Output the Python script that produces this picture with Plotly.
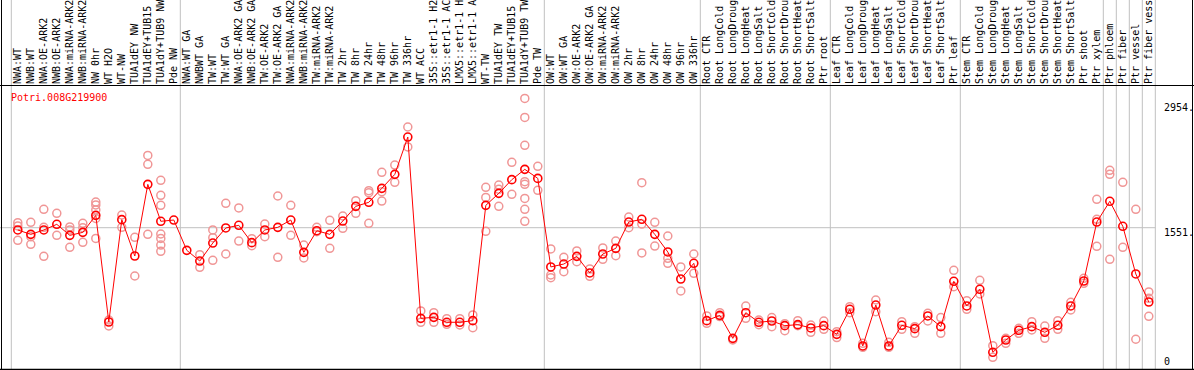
import plotly.graph_objects as go

categories = [
    "NWA:WT", "NWB:WT", "NWA:OE-ARK2", "NWB:OE-ARK2", "NWA:miRNA-ARK2", "NWB:miRNA-ARK2",
    "NW 0hr", "WT H2O", "WT-NW", "TUA1dEY NW", "TUA1dEY+TUB15", "TUA1dY+TUB9 NW", "Pde NW",
    "NWA:WT GA", "NWBWT GA", "TW:WT", "TW:WT GA", "NWA:OE-ARK2 GA", "NWB:OE-ARK2 GA",
    "TW:OE-ARK2", "TW:OE-ARK2 GA", "NWA:miRNA-ARK2", "NWB:miRNA-ARK2", "TW:miRNA-ARK2",
    "TW:miRNA-ARK2", "TW 2hr", "TW 8hr", "TW 24hr", "TW 48hr", "TW 96hr", "TW 336hr",
    "WT ACC", "35S::etr1-1 H2", "35S::etr1-1 AC", "LMX5::etr1-1 H", "LMX5::etr1-1 A",
    "WT-TW", "TUA1dEY TW", "TUA1dEY+TUB15", "TUA1dY+TUB9 TW", "Pde TW",
    "OW:WT", "OW:WT GA", "OW:OE-ARK2", "OW:OE-ARK2 GA", "OW:miRNA-ARK2", "OW:miRNA-ARK2",
    "OW 2hr", "OW 8hr", "OW 24hr", "OW 48hr", "OW 96hr", "OW 336hr",
    "Root CTR", "Root LongCold", "Root LongDroug", "Root LongHeat", "Root LongSalt",
    "Root ShortCold", "Root ShortDrou", "Root ShortHeat", "Root ShortSalt", "Ptr root",
    "Leaf CTR", "Leaf LongCold", "Leaf LongDroug", "Leaf LongHeat", "Leaf LongSalt",
    "Leaf ShortCold", "Leaf ShortDrou", "Leaf ShortHeat", "Leaf ShortSalt", "Ptr leaf",
    "Stem CTR", "Stem LongCold", "Stem LongDroug", "Stem LongHeat", "Stem LongSalt",
    "Stem ShortCold", "Stem ShortDrou", "Stem ShortHeat", "Stem ShortSalt", "Ptr shoot",
    "Ptr xylem", "Ptr phloem", "Ptr fiber", "Ptr vessel", "Ptr fiber vess",
]

means = [
    1526, 1478, 1526, 1588, 1467, 1500, 1686, 518, 1639, 1241, 2026, 1621, 1635, 1303, 1186,
    1383, 1548, 1577, 1387, 1526, 1555, 1635, 1281, 1518, 1478, 1624, 1785, 1829, 1982, 2135,
    2544, 558, 569, 515, 515, 533, 1796, 1927, 2077, 2190, 2091, 1121, 1153, 1237, 1055, 1263,
    1325, 1613, 1643, 1478, 1285, 989, 1161, 533, 591, 339, 620, 515, 529, 478, 489,
    453, 478, 383, 657, 256, 704, 256, 482, 445, 584, 467, 964, 694, 876, 186, 321, 427, 467,
    405, 482, 694, 967, 1613, 1840, 1566, 1044, 737,
]

replicates = [
    [1606, 1570, 1413], [1610, 1453, 1369], [1752, 1555, 1237], [1708, 1467],
    [1559, 1526, 1336], [1599, 1551, 1391], [1832, 1800, 1745, 1653, 1434], [540, 475],
    [1690, 1555], [1445, 1022], [2343, 2245, 1478], [2070, 1905, 1796, 1482, 1434, 1361, 1292],
    [], [], [1256, 1117], [1526, 1442, 1194], [1818, 1263], [1767, 1405], [1431, 1354],
    [1591, 1453], [1898, 1226], [1796, 1467], [1361, 1219], [1555, 1507], [1632, 1325],
    [1679, 1544], [1847, 1708], [1956, 1935, 1599], [2157, 1945, 1843], [2237, 2048],
    [2654, 2435], [639, 515], [620, 515], [555, 493], [555, 486], [595, 456],
    [1993, 1883, 1511], [2018, 1971, 1785], [2267, 1916],
    [2967, 2759, 2453, 2055, 2026, 1872, 1752, 1621], [2223, 1960],
    [1318, 1033, 1004], [1226, 1069], [1296, 1179], [1099, 1018], [1329, 1205], [1405, 1245],
    [1668, 1551], [2044, 1591, 1274], [1610, 1350], [1460, 1215, 1161], [1121, 858], [1263, 1051],
    [584, 504], [620, 577], [321], [693, 558], [540, 489], [566, 467], [500, 423], [533, 478],
    [485, 405], [529, 438],
    [412, 347], [686, 620], [285, 241], [759, 631], [296, 241], [522, 438], [467, 394],
    [613, 529], [566, 394], [1084, 905],
    [752, 657], [975, 825], [259, 131], [339, 285], [449, 394], [522, 431], [474, 339],
    [533, 438], [734, 650], [996, 942],
    [1862, 1643, 1347], [2179, 2135, 1205], [2048, 1336], [1752, 329], [847, 778, 580],
]

group_breaks = [-0.5, 12.5, 40.5, 52.5, 62.5, 72.5, 83.5, 84.5, 85.5, 86.5, 87.5]
y_labels = [("2954.", 107), ("1551.", 232), ("0", 361)]
gene = "Potri.008G219900"

W, H = 1194, 370
TOP = 85
px_per_cat = 13.0
x0_px = 17.8
xr0 = -x0_px / px_per_cat
xr1 = xr0 + W / px_per_cat
y_px_per_unit = 0.0913
y_zero_px = 369.3
yr0 = -(H - y_zero_px) / y_px_per_unit
yr1 = (y_zero_px - TOP) / y_px_per_unit

MONO = "DejaVu Sans Mono"
xs = list(range(len(categories)))

rx, ry = [], []
for i, reps in enumerate(replicates):
    for v in reps:
        rx.append(i)
        ry.append(v)

fig = go.Figure()
fig.add_trace(go.Scatter(
    x=rx, y=ry, mode="markers",
    marker=dict(symbol="circle-open", size=8, color="rgb(240,150,150)",
                line=dict(width=1.5, color="rgb(240,150,150)")),
    hoverinfo="skip", showlegend=False,
))
fig.add_trace(go.Scatter(
    x=xs, y=means, mode="lines+markers",
    line=dict(color="red", width=1),
    marker=dict(symbol="circle-open", size=8, color="red",
                line=dict(width=1.6, color="red")),
    showlegend=False,
))

shapes = []
for b in group_breaks:
    shapes.append(dict(type="line", xref="x", yref="paper", x0=b, x1=b, y0=0, y1=1,
                       line=dict(color="rgb(192,192,192)", width=1), layer="below"))
shapes.append(dict(type="line", xref="x", yref="y", x0=xr0, x1=87.5, y0=1551, y1=1551,
                   line=dict(color="rgb(192,192,192)", width=1), layer="below"))
top_paper = (H - TOP - 0.5) / H
shapes.append(dict(type="line", xref="paper", yref="paper", x0=0, x1=1,
                   y0=top_paper, y1=top_paper, line=dict(color="black", width=1)))
shapes.append(dict(type="line", xref="paper", yref="paper", x0=0, x1=1,
                   y0=0.6 / H, y1=0.6 / H, line=dict(color="black", width=1.2)))
shapes.append(dict(type="line", xref="paper", yref="paper", x0=1.5 / W, x1=1.5 / W,
                   y0=0, y1=1, line=dict(color="black", width=1)))
shapes.append(dict(type="line", xref="paper", yref="paper", x0=1192.5 / W, x1=1192.5 / W,
                   y0=0, y1=1, line=dict(color="black", width=1)))

annotations = [dict(text=gene, xref="paper", yref="paper", x=9 / W, y=(H - 97) / H,
                    xanchor="left", yanchor="middle", showarrow=False,
                    font=dict(family=MONO, size=10, color="red"))]
for txt, ypx in y_labels:
    annotations.append(dict(text=txt, xref="paper", yref="paper", x=1162 / W,
                            y=(H - ypx) / H, xanchor="left", yanchor="middle",
                            showarrow=False, font=dict(family=MONO, size=10, color="black")))

fig.update_layout(
    width=W, height=H, margin=dict(l=0, r=0, t=0, b=0),
    paper_bgcolor="white", plot_bgcolor="white",
    shapes=shapes, annotations=annotations,
    xaxis=dict(range=[xr0, xr1], domain=[0, 1], side="top", tickmode="array",
               tickvals=xs, ticktext=categories, tickangle=-90, ticks="",
               tickfont=dict(family=MONO, size=10, color="black"),
               showgrid=False, zeroline=False, showline=False, automargin=False),
    yaxis=dict(range=[yr0, yr1], domain=[0, (H - TOP) / H], showticklabels=False,
               showgrid=False, zeroline=False, showline=False, automargin=False),
)

fig.write_html("out.html", config={"displayModeBar": False},
               post_script="document.body.style.margin='0';document.body.style.padding='0';")
